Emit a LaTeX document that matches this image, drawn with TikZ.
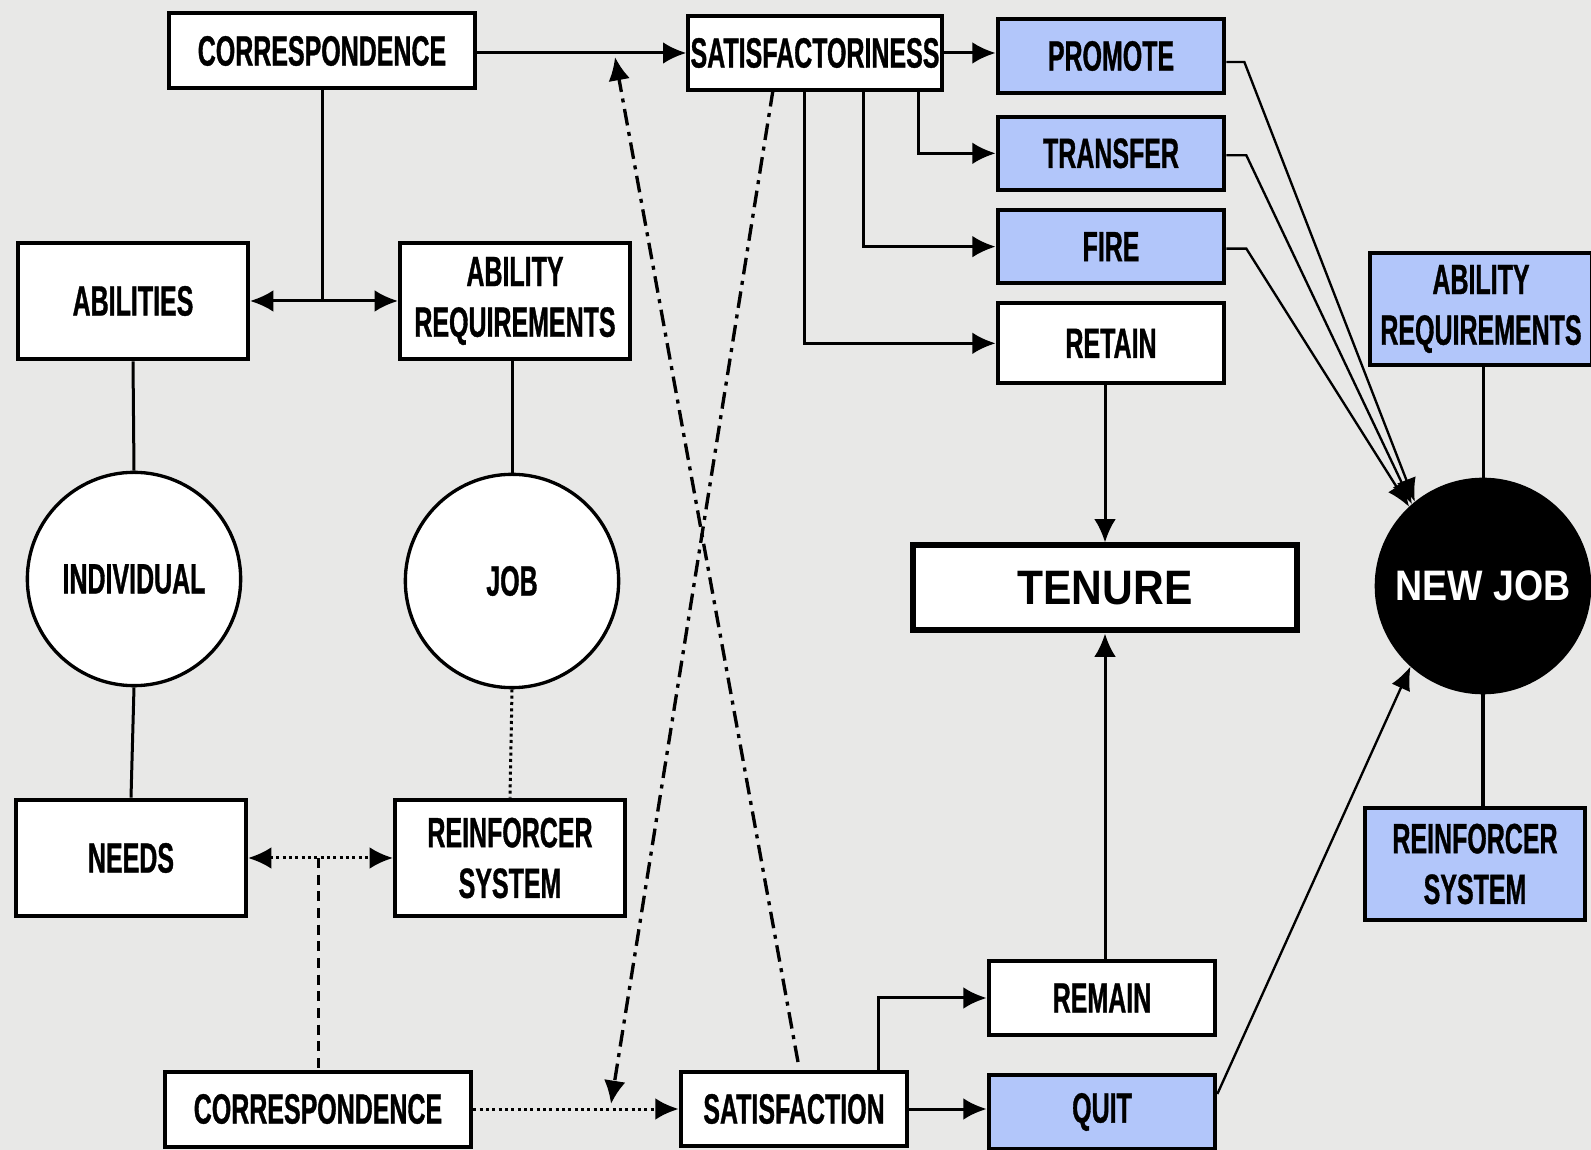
\documentclass[tikz,border=0pt]{standalone}
\usepackage{fontspec}
\newfontfamily\boxfont[FakeStretch=0.59,FakeBold=0.8]{Liberation Sans}
\newfontfamily\widefont[FakeStretch=0.88]{Liberation Sans}
\usetikzlibrary{arrows.meta, positioning}
\definecolor{bgcol}{RGB}{232,232,231}
\definecolor{jobblue}{RGB}{178,198,250}

\begin{document}
\begin{tikzpicture}[
  x=0.3pt, y=-0.3pt,
  box/.style={rectangle, draw, line width=1.2pt, fill=white, inner sep=0pt, align=center,
    font=\boxfont\bfseries\fontsize{12.7}{15.2}\selectfont},
  corr/.style={box, minimum width=92pt, minimum height=22.5pt},
  act/.style={box, minimum width=68pt, minimum height=22pt},
  big/.style={box, minimum width=69pt, minimum height=35pt},
  bluefill/.style={fill=jobblue},
  circ/.style={circle, draw, line width=1pt, fill=white, inner sep=0pt, minimum size=64pt,
    font=\boxfont\bfseries\fontsize{12.7}{15.2}\selectfont},
  link/.style={line width=0.9pt},
  arr/.style={-{Latex[length=7pt,width=6.5pt]}, line width=0.9pt},
  dblarr/.style={{Latex[length=7pt,width=6.5pt]}-{Latex[length=7pt,width=6.5pt]}, line width=0.9pt},
  cross/.style={-{Latex[length=7pt,width=6.5pt]}, line width=1pt, dash pattern=on 5pt off 2pt on 1.2pt off 2pt},
  feed/.style={-{Latex[length=7pt,width=6pt]}, line width=0.7pt}
]
\useasboundingbox (0,0) rectangle (1591,1150);
\clip (0,0) rectangle (1591,1150);
\fill[bgcol] (0,0) rectangle (1591,1150);

\node[corr] (corrA) at (322,51) {CORRESPONDENCE};
\node[box, minimum width=76pt, minimum height=22pt] (satfy) at (815,53) {SATISFACTORINESS};
\node[act, bluefill] (promote) at (1111,56) {PROMOTE};
\node[act, bluefill, below=6pt of promote] (transfer) {TRANSFER};
\node[act, bluefill, below=4.8pt of transfer] (fire) {FIRE};
\node[act, minimum height=24pt, below=4.8pt of fire] (retain) {RETAIN};

\node[big] (abil) at (133,301) {ABILITIES};
\node[big] (abilreq) at (515,301) {ABILITY\\REQUIREMENTS};
\node[circ] (indiv) at (134,579) {INDIVIDUAL};
\node[circ] (job) at (512,581) {JOB};
\node[big] (needs) at (131,858) {NEEDS};
\node[big] (reinf) at (510,858) {REINFORCER\\SYSTEM};

\node[corr] (corrB) at (318,1109) {CORRESPONDENCE};
\node[act] (sat) at (794,1109) {SATISFACTION};

\node[box, line width=1.8pt, minimum width=115pt, minimum height=25.5pt,
  font=\widefont\bfseries\fontsize{14.5}{17}\selectfont] (tenure) at (1105,588) {TENURE};
\node[act] (remain) at (1102,998) {REMAIN};
\node[act, bluefill, below=11pt of remain] (quit) {QUIT};

\node[box, bluefill, minimum width=66.5pt, minimum height=33.5pt] (abilreq2) at (1481,309) {ABILITY\\REQUIREMENTS};
\node[circ, fill=black, text=white, font=\widefont\bfseries\fontsize{12.8}{15}\selectfont] (newjob) at (1483,586) {NEW JOB};
\node[box, bluefill, minimum width=66pt, minimum height=33.5pt] (reinf2) at (1475,864) {REINFORCER\\SYSTEM};

\coordinate (brT) at (918,0);
\coordinate (brF) at (863,0);
\coordinate (brR) at (804,0);
\coordinate (brM) at (878,0);
\coordinate (dnA) at (773,90);
\coordinate (dnB) at (611,1104);
\coordinate (upA) at (798,1062);
\coordinate (upB) at (615,57);

\draw[arr] (corrA.east |- satfy.west) -- (satfy.west);
\draw[link] (corrA.south) -- (corrA.south |- abil.east);
\draw[dblarr] (abil.east) -- (abilreq.west);
\draw[link] (abil.south) -- (indiv.north);
\draw[link] (job.north |- abilreq.south) -- (job.north);
\draw[link] (indiv.south) -- (needs.north);
\draw[link, densely dotted] (job.south) -- (reinf.north);
\draw[dblarr, densely dotted] (needs.east) -- (reinf.west);
\draw[link, densely dashed] (corrB.north |- needs.east) -- (corrB.north);
\draw[arr, densely dotted] (corrB.east) -- (sat.west);

\draw[cross] (dnA) -- (dnB);
\draw[cross] (upA) -- (upB);

\draw[arr] (satfy.east) -- (satfy.east -| promote.west);
\draw[arr] (satfy.south -| brT) |- (transfer.west);
\draw[arr] (satfy.south -| brF) |- (fire.west);
\draw[arr] (satfy.south -| brR) |- (retain.west);
\draw[arr] (tenure.north |- retain.south) -- (tenure.north);
\draw[arr] (tenure.south |- remain.north) -- (tenure.south);
\draw[arr] (sat.north -| brM) |- (remain.west);
\draw[arr] (sat.east) -- (sat.east -| quit.west);

\draw[feed] ([yshift=-1.8pt]promote.east) -- ++(18,0) -- (newjob.129);
\draw[feed] ([yshift=-0.6pt]transfer.east) -- ++(20,0) -- (newjob.131);
\draw[feed] ([yshift=-0.6pt]fire.east) -- ++(20,0) -- (newjob.133);
\draw[feed] ([yshift=5.4pt]quit.east) -- (newjob.228);
\draw[link] (newjob.north |- abilreq2.south) -- (newjob.north);
\draw[link, line width=1.3pt] (newjob.south) -- (newjob.south |- reinf2.north);
\end{tikzpicture}
\end{document}
